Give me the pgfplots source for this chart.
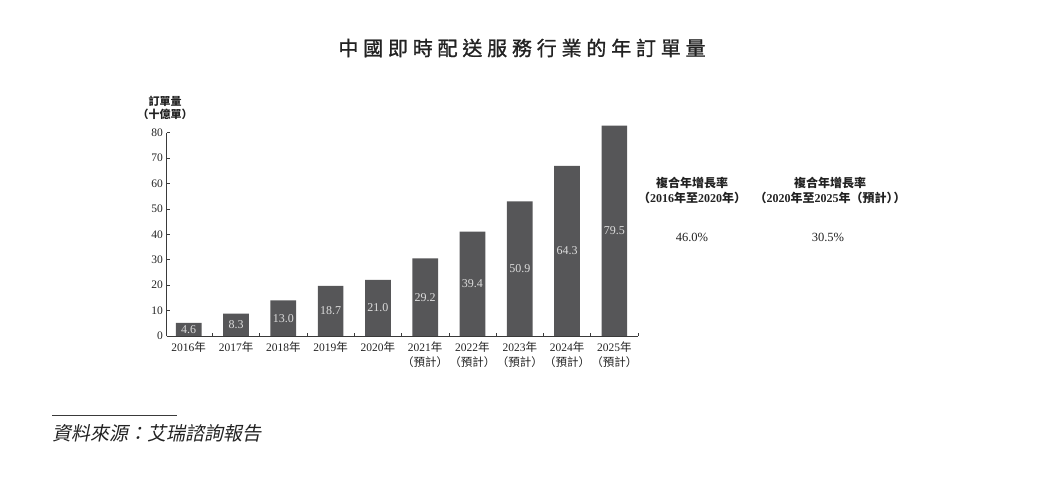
\documentclass[border=0pt]{standalone}
\usepackage{fontspec}
\setmainfont{Liberation Serif}
\newfontfamily\cjk{Noto Sans CJK TC}
\newfontfamily\cjktitle{Noto Sans CJK TC}[LetterSpace=24, FakeBold=1.2]
\newfontfamily\cjkslant{Noto Sans CJK TC}[FakeSlant=0.2]
\newcommand{\C}[1]{{\cjk #1}}
\usepackage{pgfplots}
\pgfplotsset{compat=1.18}
\definecolor{bargray}{HTML}{565658}
\definecolor{axgray}{HTML}{3A3A3A}
\definecolor{txt}{HTML}{222222}
\definecolor{lbl}{HTML}{DCDCDC}

\begin{document}
\begin{tikzpicture}
\path[use as bounding box] (0,0) rectangle (1047pt,478pt);
\begin{axis}[
  at={(166.5pt,142pt)}, anchor=south west, scale only axis,
  width=471.5pt, height=203.5pt,
  xmin=-0.47, xmax=9.5, ymin=0, ymax=80, clip=false,
  axis lines=left, axis line style={-, draw=axgray, line width=0.8pt},
  ytick={0,10,...,80}, xtick={0,...,9}, minor xtick={0.5,1.5,...,9.5},
  major x tick style={draw=none},
  tick align=inside, tick style={draw=axgray, line width=0.6pt},
  major tick length=3pt, minor tick length=3pt,
  xticklabels={2016\C{年},2017\C{年},2018\C{年},2019\C{年},2020\C{年},
    2021\C{年}\\\C{（預計）},2022\C{年}\\\C{（預計）},2023\C{年}\\\C{（預計）},
    2024\C{年}\\\C{（預計）},2025\C{年}\\\C{（預計）}},
  xticklabel style={align=center, font=\fontsize{11.5}{15}\selectfont, text=txt, yshift=-2pt},
  yticklabel style={font=\fontsize{11.5}{13}\selectfont, text=txt},
  /pgf/number format/assume math mode=true,
]
\addplot[ybar, bar width=25.7pt, fill=bargray, draw=none,
  nodes near coords, point meta=explicit symbolic,
  visualization depends on={y \as \rawy},
  every node near coord/.append style={anchor=center,
    shift={(axis direction cs:0,-\rawy/2)},
    font=\fontsize{12}{14}\selectfont, text=lbl}]
coordinates {
(0,5.2) [4.6]
(1,8.8) [8.3]
(2,14.0) [13.0]
(3,19.7) [18.7]
(4,22.1) [21.0]
(5,30.5) [29.2]
(6,41.0) [39.4]
(7,52.9) [50.9]
(8,66.9) [64.3]
(9,82.7) [79.5]
};
\end{axis}
\node[font=\cjktitle\fontsize{20}{24}\selectfont, text=txt] at (522pt,430pt) {中國即時配送服務行業的年訂單量};
\node[font=\cjk\bfseries\fontsize{11}{13}\selectfont, text=txt] at (165pt,377pt) {訂單量};
\node[font=\cjk\bfseries\fontsize{11}{13}\selectfont, text=txt] at (165pt,364pt) {（十億單）};
\node[font=\cjk\bfseries\fontsize{12}{14}\selectfont, text=txt] at (692pt,295pt) {複合年增長率};
\node[font=\bfseries\fontsize{12}{14}\selectfont, text=txt] at (692pt,280pt) {\C{（}2016\C{年至}2020\C{年）}};
\node[font=\fontsize{12.5}{14}\selectfont, text=txt] at (692pt,241pt) {46.0\%};
\node[font=\cjk\bfseries\fontsize{12}{14}\selectfont, text=txt] at (830pt,295pt) {複合年增長率};
\node[font=\bfseries\fontsize{12}{14}\selectfont, text=txt] at (830pt,280pt) {\C{（}2020\C{年至}2025\C{年（預計）}\hspace{-5pt}\C{）}};
\node[font=\fontsize{12.5}{14}\selectfont, text=txt] at (828pt,241pt) {30.5\%};
\draw[line width=0.8pt, color=axgray] (52pt,63pt) -- (177pt,63pt);
\node[anchor=west, inner sep=0pt, font=\cjkslant\fontsize{19}{22}\selectfont, text=txt] at (52pt,45pt) {資料來源：艾瑞諮詢報告};
\end{tikzpicture}
\end{document}
